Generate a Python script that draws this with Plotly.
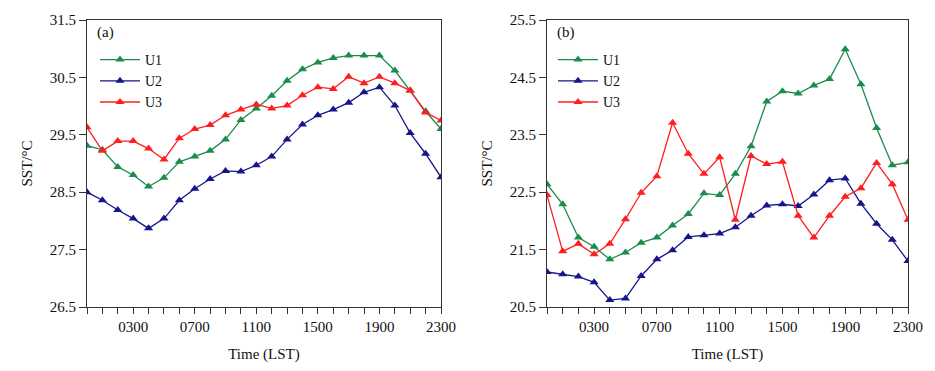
import plotly.graph_objects as go

hours = list(range(24))
tick_labels = ["0300" if h == 3 else "0700" if h == 7 else "1100" if h == 11 else
               "1500" if h == 15 else "1900" if h == 19 else "2300" if h == 23 else ""
               for h in hours]

# Panel (a)
a_u1 = [29.31, 29.24, 28.94, 28.80, 28.60, 28.75, 29.03, 29.12, 29.22, 29.42, 29.76, 29.96,
        30.18, 30.44, 30.64, 30.76, 30.84, 30.88, 30.88, 30.88, 30.62, 30.27, 29.91, 29.60]
a_u2 = [28.50, 28.36, 28.19, 28.04, 27.87, 28.04, 28.36, 28.56, 28.73, 28.87, 28.86, 28.97,
        29.12, 29.42, 29.68, 29.84, 29.94, 30.06, 30.24, 30.33, 30.01, 29.53, 29.17, 28.76]
a_u3 = [29.63, 29.22, 29.39, 29.39, 29.26, 29.07, 29.44, 29.60, 29.67, 29.84, 29.94, 30.03,
        29.96, 30.01, 30.19, 30.33, 30.30, 30.51, 30.40, 30.51, 30.40, 30.27, 29.89, 29.75]

# Panel (b)
b_u1 = [22.64, 22.29, 21.71, 21.55, 21.33, 21.45, 21.62, 21.71, 21.92, 22.12, 22.48, 22.45,
        22.82, 23.30, 24.08, 24.26, 24.22, 24.36, 24.47, 24.99, 24.38, 23.62, 22.97, 23.02]
b_u2 = [21.11, 21.07, 21.03, 20.93, 20.62, 20.65, 21.04, 21.33, 21.49, 21.72, 21.75, 21.78,
        21.89, 22.09, 22.27, 22.29, 22.26, 22.46, 22.71, 22.74, 22.30, 21.95, 21.67, 21.30]
b_u3 = [22.45, 21.47, 21.60, 21.42, 21.60, 22.03, 22.49, 22.78, 23.71, 23.17, 22.82, 23.11,
        22.02, 23.13, 22.99, 23.03, 22.09, 21.71, 22.09, 22.42, 22.57, 23.01, 22.64, 22.02]

series_names = ["U1", "U2", "U3"]
colors = ["#1a8c4e", "#16168a", "#ff1e1e"]

a_yticks = [26.5, 27.5, 28.5, 29.5, 30.5, 31.5]
b_yticks = [20.5, 21.5, 22.5, 23.5, 24.5, 25.5]

FONT = "Liberation Serif, Times New Roman, serif"

fig = go.Figure()
for name, vals, col in zip(series_names, [a_u1, a_u2, a_u3], colors):
    fig.add_trace(go.Scatter(x=hours, y=vals, name=name, mode="lines+markers",
                             line=dict(color=col, width=1.3),
                             marker=dict(symbol="triangle-up", size=8, color=col),
                             xaxis="x", yaxis="y", legend="legend"))
for name, vals, col in zip(series_names, [b_u1, b_u2, b_u3], colors):
    fig.add_trace(go.Scatter(x=hours, y=vals, name=name, mode="lines+markers",
                             line=dict(color=col, width=1.3),
                             marker=dict(symbol="triangle-up", size=8, color=col),
                             xaxis="x2", yaxis="y2", legend="legend2"))

# page body has an 8px default margin; screen coords = figure coords + 8
OFF = 8
W, H = 935 - OFF, 371 - OFF
L, R, T, B = 87 - OFF, 35 - OFF, 20 - OFF, 64
pw = W - L - R
ph = H - T - B

def px_x(p):
    return (p - OFF - L) / pw

def px_y(p):
    return (H - B - (p - OFF)) / ph

common_x = dict(range=[0, 23], tickmode="array", tickvals=hours, ticktext=tick_labels,
                ticks="outside", ticklen=6, tickwidth=1, tickcolor="#333",
                showline=True, linecolor="#333", linewidth=1, mirror=True,
                showgrid=False, zeroline=False,
                tickfont=dict(family=FONT, size=15, color="#111"),
                title=dict(text="Time (LST)", font=dict(family=FONT, size=15, color="#111"), standoff=14))

def common_y(ticks):
    return dict(range=[ticks[0], ticks[-1]], tickmode="array", tickvals=ticks,
                ticktext=[f"{t:.1f}" for t in ticks],
                ticks="outside", ticklen=7, tickwidth=1, tickcolor="#333",
                showline=True, linecolor="#333", linewidth=1, mirror=True,
                showgrid=False, zeroline=False,
                tickfont=dict(family=FONT, size=15, color="#111"),
                title=dict(text="SST/°C", font=dict(family=FONT, size=15, color="#111"), standoff=13))

legend_common = dict(font=dict(family=FONT, size=14, color="#111"), bgcolor="rgba(0,0,0,0)",
                     borderwidth=0, tracegroupgap=0, itemwidth=40,
                     xanchor="left", yanchor="top", itemclick=False)

fig.update_layout(
    width=W, height=H,
    margin=dict(l=L, r=R, t=T, b=B, autoexpand=False),
    paper_bgcolor="white", plot_bgcolor="white",
    xaxis=dict(domain=[0, px_x(441)], anchor="y", **common_x),
    xaxis2=dict(domain=[px_x(547), 1], anchor="y2", **common_x),
    yaxis=dict(domain=[0, 1], anchor="x", **common_y(a_yticks)),
    yaxis2=dict(domain=[0, 1], anchor="x2", **common_y(b_yticks)),
    legend=dict(x=px_x(95), y=px_y(44), **legend_common),
    legend2=dict(x=px_x(553), y=px_y(44), **legend_common),
    annotations=[
        dict(text="(a)", x=px_x(95), y=px_y(33), xref="paper", yref="paper",
             xanchor="left", yanchor="middle", showarrow=False,
             font=dict(family=FONT, size=15, color="#111")),
        dict(text="(b)", x=px_x(555), y=px_y(33), xref="paper", yref="paper",
             xanchor="left", yanchor="middle", showarrow=False,
             font=dict(family=FONT, size=15, color="#111")),
    ],
    showlegend=True,
)

fig.write_html("out.html")
